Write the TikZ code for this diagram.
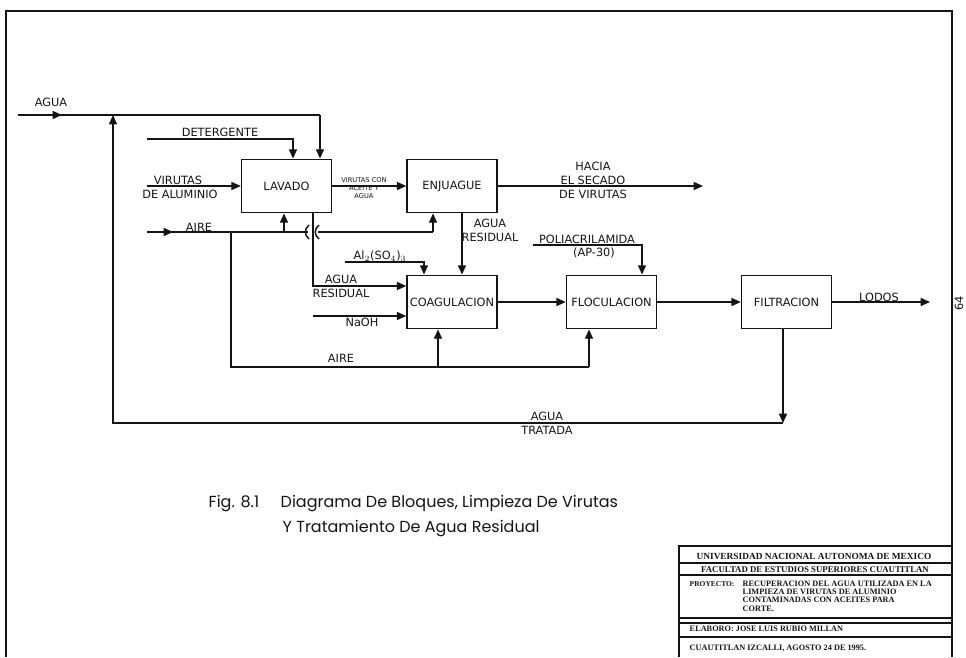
\documentclass[tikz,border=0pt]{standalone}
\usepackage{fontspec}
\setmainfont{DejaVu Sans}
\newfontfamily\capfont{Poppins}
\newfontfamily\tbfont{Liberation Serif}
\usepackage{tikz}
\usetikzlibrary{arrows.meta}
\definecolor{PlanoInk}{HTML}{141414}

\begin{document}
\begin{tikzpicture}[x=0.75pt,y=-0.75pt,color=PlanoInk,line width=1.1pt,
  blk/.style={draw,minimum width=67.5pt,minimum height=40pt,inner sep=0pt,font=\fontsize{8.5}{10}\selectfont},
  lbl/.style={inner sep=0pt,align=center,font=\fontsize{8.5}{10.5}\selectfont},
  smalllbl/.style={inner sep=0pt,align=center,font=\fontsize{5}{6}\selectfont},
  flow/.style={-{Triangle[length=7pt,width=6pt]}},
  tb/.style={inner sep=0pt,anchor=base west,font=\tbfont\bfseries\fontsize{6.2}{6.2}\selectfont},
  figcap/.style={inner sep=0pt,anchor=base west,font=\capfont\fontsize{12}{14}\selectfont}
]
\useasboundingbox (0,0) rectangle (966,657);
\draw[line width=1.5pt] (6,657) -- (6,11) -- (952,11) -- (952,657);

\node[blk] (lavado) at (286.5,186) {LAVADO};
\node[blk] (enjuague) at (452,186) {ENJUAGUE};
\node[blk] (coag) at (452,302) {COAGULACION};
\node[blk] (floc) at (611.5,302) {FLOCULACION};
\node[blk] (filt) at (786.5,302) {FILTRACION};

\coordinate (aguaIn) at (18,115);
\coordinate (aguaTee) at (113,115);
\coordinate (aguaCol) at (320,115);
\coordinate (detIn) at (147,139);
\coordinate (detCol) at (293,139);
\coordinate (virIn) at (147,186);
\coordinate (secOut) at (703,186);
\coordinate (aireIn) at (147,232);
\coordinate (aireDown) at (231,232);
\coordinate (aireLav) at (284,232);
\coordinate (hopL) at (308,232);
\coordinate (hopR) at (318,232);
\coordinate (aireEnj) at (433,232);
\coordinate (resCol) at (313,286);
\coordinate (alIn) at (345,262);
\coordinate (alCol) at (424,262);
\coordinate (naIn) at (313,316);
\coordinate (aireLow) at (231,367);
\coordinate (aireCoag) at (438,367);
\coordinate (aireFloc) at (589,367);
\coordinate (poliIn) at (533,245);
\coordinate (poliCol) at (642,245);
\coordinate (lodosOut) at (930,302);
\coordinate (retCorner) at (783,423);
\coordinate (retLeft) at (113,423);

\draw[flow] (aguaIn) -- ++(44,0);
\draw (aguaIn) -- (aguaCol);
\draw[flow] (aguaCol) -- (aguaCol |- lavado.north);
\draw[flow] (detIn) -- (detCol) -- (detCol |- lavado.north);
\draw[flow] (virIn) -- (lavado);
\draw[flow] (lavado) -- (enjuague);
\draw[flow] (enjuague) -- (secOut);

\draw[flow] (aireIn) -- ++(26,0);
\draw (aireIn) -- (hopL);
\draw (hopR) -- (aireEnj);
\draw ([shift={(1,-7)}]hopL) .. controls ([shift={(-4,-3)}]hopL) and ([shift={(-4,3)}]hopL) .. ([shift={(1,7)}]hopL);
\draw ([shift={(1,-7)}]hopR) .. controls ([shift={(-4,-3)}]hopR) and ([shift={(-4,3)}]hopR) .. ([shift={(1,7)}]hopR);
\draw[flow] (aireLav) -- (aireLav |- lavado.south);
\draw[flow] (aireEnj) -- (aireEnj |- enjuague.south);
\draw (aireDown) -- (aireLow) -- (aireFloc);
\draw[flow] (aireCoag) -- (aireCoag |- coag.south);
\draw[flow] (aireFloc) -- (aireFloc |- floc.south);

\draw[flow] (resCol |- lavado.south) -- (resCol) -- (resCol -| coag.west);
\draw[flow] ([xshift=7.5pt]enjuague.south) -- ([xshift=7.5pt]coag.north);
\draw[flow] (alIn) -- (alCol) -- (alCol |- coag.north);
\draw[flow] (naIn) -- (naIn -| coag.west);
\draw[flow] (coag) -- (floc);
\draw[flow] (poliIn) -- (poliCol) -- (poliCol |- floc.north);
\draw[flow] (floc) -- (filt);
\draw[flow] (filt) -- (lodosOut);
\draw[flow] (retCorner |- filt.south) -- (retCorner);
\draw[flow] (retCorner) -- (retLeft) -- (aguaTee);

\node[lbl] (lAgua) at (51,102) {AGUA};
\node[lbl] (lDet) at (220,132) {DETERGENTE};
\node[lbl] (lVir) at (178,180) {VIRUTAS};
\node[lbl] (lAlum) at (180,194) {DE ALUMINIO};
\node[smalllbl] (lVca) at (364,188) {VIRUTAS CON\\ACEITE Y\\AGUA};
\node[lbl] (lSec) at (593,180) {HACIA\\EL SECADO\\DE VIRUTAS};
\node[lbl] (lAire) at (199,227) {AIRE};
\node[lbl] (lResA) at (490,230) {AGUA\\RESIDUAL};
\node[lbl] (lAl) at (380,256) {Al$_2$(SO$_4$)$_3$};
\node[lbl] (lPoli) at (587,239) {POLIACRILAMIDA};
\node[lbl] (lAp) at (594,253) {(AP-30)};
\node[lbl] (lResB) at (341,286) {AGUA\\RESIDUAL};
\node[lbl] (lNa) at (362,322) {NaOH};
\node[lbl] (lAireB) at (341,358) {AIRE};
\node[lbl] (lLodos) at (879,297) {LODOS};
\node[lbl] (lTrat) at (547,423) {AGUA\\TRATADA};
\node[lbl,rotate=90] (pag) at (959,303) {64};

\node[figcap] (figNum) at (208,507) {Fig. 8.1};
\node[figcap] (figTit) at (280,507) {Diagrama De Bloques, Limpieza De Virutas};
\node[figcap] (figTit2) at (282,532) {Y Tratamiento De Agua Residual};

\draw[line width=1pt] (679,657) -- (679,546) -- (952,546);
\draw[line width=0.8pt] (679,563) -- (952,563);
\draw[line width=0.8pt] (679,575) -- (952,575);
\draw[line width=0.8pt] (679,618) -- (952,618);
\draw[line width=0.8pt] (679,623) -- (952,623);
\draw[line width=0.8pt] (679,637) -- (952,637);
\node[tb,anchor=base,font=\tbfont\bfseries\fontsize{7}{7}\selectfont] (tbUni) at (814,559) {UNIVERSIDAD NACIONAL AUTONOMA DE MEXICO};
\node[tb,anchor=base,font=\tbfont\bfseries\fontsize{6.6}{7}\selectfont] (tbFac) at (815,572) {FACULTAD DE ESTUDIOS SUPERIORES CUAUTITLAN};
\node[tb,font=\tbfont\bfseries\fontsize{5.6}{6}\selectfont] (tbPro) at (689,586) {PROYECTO:};
\node[tb,align=left,anchor=north west] (tbProT) at (742,580) {RECUPERACION DEL AGUA UTILIZADA EN LA\\LIMPIEZA DE VIRUTAS DE ALUMINIO\\CONTAMINADAS CON ACEITES PARA\\CORTE.};
\node[tb] (tbEla) at (689,631) {ELABORO: JOSE LUIS RUBIO MILLAN};
\node[tb] (tbFec) at (689,650) {CUAUTITLAN IZCALLI, AGOSTO 24 DE 1995.};
\end{tikzpicture}
\end{document}
